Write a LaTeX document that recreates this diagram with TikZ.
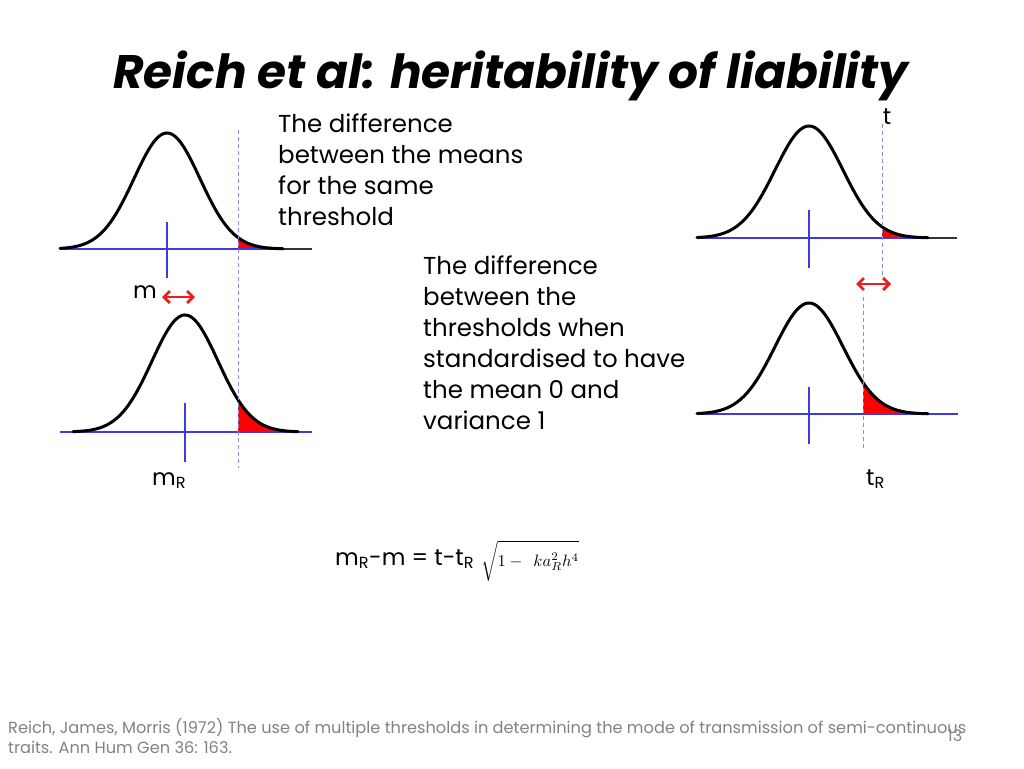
\documentclass[tikz,border=0pt]{standalone}
\usepackage{fontspec}
\usepackage{graphicx}
\setmainfont{Poppins}
\usetikzlibrary{arrows.meta}
\definecolor{axisblue}{RGB}{60,60,225}
\definecolor{dashblue}{RGB}{140,140,230}
\definecolor{arrred}{RGB}{235,30,30}
\definecolor{footgray}{RGB}{130,130,130}
\tikzset{
  curve/.style={line width=3pt, black, line join=round, line cap=round},
  axis/.style={line width=1.3pt, axisblue},
  tailline/.style={line width=1.2pt, black!80},
  thresh/.style={line width=0.6pt, dashblue, dash pattern=on 4pt off 3pt},
  tailfill/.style={fill=red},
  diffarrow/.style={line width=2.8pt, arrred, {Straight Barb[length=6pt,width=12pt]}-{Straight Barb[length=6pt,width=12pt]}},
  body/.style={font=\fontsize{24.5}{31}\selectfont, align=left, inner sep=0pt, anchor=north west},
  lbl/.style={font=\fontsize{23}{26}\selectfont, inner sep=0pt},
}
\begin{document}
\begin{tikzpicture}[x=1pt,y=-1pt]
\useasboundingbox (0,0) rectangle (1024,768);

% title
\node[font=\fontsize{47}{50}\selectfont\bfseries\itshape, inner sep=0pt, anchor=base west] (title) at (113,88) {Reich et al: heritability of liability};

% ---------- top-left curve ----------
\fill[tailfill] (238,249) -- plot[domain=238:283, samples=40] ({\x},{249-116*exp(-((\x-167)/33)^2/2)}) -- (283,249) -- cycle;
\draw[tailline] (283,249) -- (312,249);
\draw[axis] (60,249) -- (283,249);
\draw[axis] (167,222) -- (167,278);
\draw[curve] plot[domain=60:283, samples=120] ({\x},{249-116*exp(-((\x-167)/33)^2/2)});

% ---------- bottom-left curve ----------
\fill[tailfill] (238,432) -- plot[domain=238:298, samples=40] ({\x},{432-117*exp(-((\x-185)/33)^2/2)}) -- (298,432) -- cycle;
\draw[axis] (60,432) -- (312,432);
\draw[axis] (185,403) -- (185,462);
\draw[curve] plot[domain=73:298, samples=120] ({\x},{432-117*exp(-((\x-185)/33)^2/2)});
\draw[thresh] (238,130) -- (238,468);

% ---------- top-right curve ----------
\fill[tailfill] (882,238) -- plot[domain=882:928, samples=40] ({\x},{238-112*exp(-((\x-809)/34)^2/2)}) -- (928,238) -- cycle;
\draw[tailline] (928,238) -- (957,238);
\draw[axis] (697,238) -- (928,238);
\draw[axis] (809,210) -- (809,268);
\draw[curve] plot[domain=697:928, samples=120] ({\x},{238-112*exp(-((\x-809)/34)^2/2)});
\draw[thresh] (882,124) -- (882,276);

% ---------- bottom-right curve ----------
\fill[tailfill] (863,414) -- plot[domain=863:928, samples=40] ({\x},{414-111*exp(-((\x-809)/34)^2/2)}) -- (928,414) -- cycle;
\draw[axis] (697,414) -- (958,414);
\draw[axis] (809,387) -- (809,444);
\draw[curve] plot[domain=697:928, samples=120] ({\x},{414-111*exp(-((\x-809)/34)^2/2)});
\draw[thresh] (863,297) -- (863,448);

% labels
\node[lbl, anchor=base] (lt) at (887,124) {t};
\node[lbl, anchor=base west] (lm) at (133,298) {m};
\node[lbl, anchor=base west] (lmr) at (152,485) {m\textsubscript{R}};
\node[lbl, anchor=base west] (ltr) at (866,485) {t\textsubscript{R}};

% arrows
\coordinate (am1) at (162,297);
\coordinate (am2) at (195,297);
\draw[diffarrow] (am1) -- (am2);
\coordinate (at1) at (856,284);
\coordinate (at2) at (891,284);
\draw[diffarrow] (at1) -- (at2);

% text blocks
\node[body] (txt1) at (278,114) {The difference\\between the means\\for the same\\threshold};
\node[body] (txt2) at (423,256) {The difference\\between the\\thresholds when\\standardised to have\\the mean 0 and\\variance 1};

% formula
\node[lbl, anchor=base west] (form) at (335,565) {m\textsubscript{R}-m = t-t\textsubscript{R}};
\node[inner sep=0pt, anchor=base west] (root) at (481,566) {\scalebox{1.65}{$\sqrt{\vphantom{\Big|}1-\;\,ka_R^2h^4}$}};

% footer
\node[font=\fontsize{16.2}{20}\selectfont, text=footgray, align=left, inner sep=0pt, anchor=north west] (foot) at (8,718) {Reich, James, Morris (1972) The use of multiple thresholds in determining the mode of transmission of semi-continuous\\traits. Ann Hum Gen 36: 163.};
\node[font=\fontsize{16}{18}\selectfont, text=footgray, inner sep=0pt, anchor=base] (pg) at (955,741) {13};
\end{tikzpicture}
\end{document}
